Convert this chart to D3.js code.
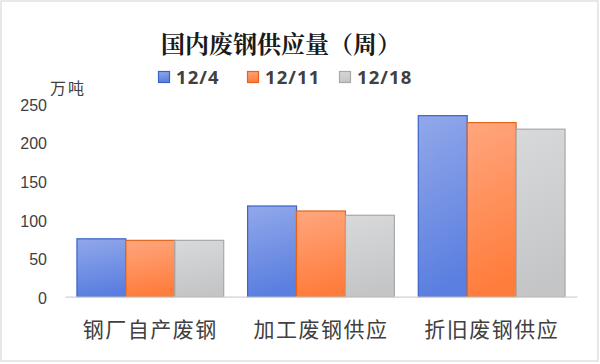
<!DOCTYPE html>
<html>
<head>
<meta charset="utf-8">
<script src="https://cdn.jsdelivr.net/npm/d3@7"></script>
<style>
  body { margin: 0; background: #fff; }
  svg { display: block; }
</style>
</head>
<body>
<script>
// categories and weekly series (万吨)
var categories = ["钢厂自产废钢", "加工废钢供应", "折旧废钢供应"];
var weeks = ["12/4", "12/11", "12/18"];
var w124 = [75, 117.5, 234.5];
var w1211 = [73, 111, 225.5];
var w1218 = [73, 105.5, 217];
var yTicks = [0, 50, 100, 150, 200, 250];

var seriesValues = [w124, w1211, w1218];
var data = categories.map(function(c, i) {
  return { cat: c, vals: weeks.map(function(w, j) { return { week: w, v: seriesValues[j][i] }; }) };
});

var width = 600, height = 364;
var svg = d3.select("body").append("svg")
  .attr("width", width)
  .attr("height", height);

// colour per series: top, bottom, stroke
var colors = {
  "12/4":  ["#91a8ea", "#5b7fe0", "#3b62c9"],
  "12/11": ["#ffa67e", "#ff7d3c", "#e5641a"],
  "12/18": ["#d8d9db", "#c4c5c7", "#a8a8a8"]
};

var defs = svg.append("defs");
weeks.forEach(function(w, i) {
  var g = defs.append("linearGradient")
    .attr("id", "grad" + i)
    .attr("x1", "0").attr("y1", "0").attr("x2", "0.15").attr("y2", "1");
  g.append("stop").attr("offset", "0%").attr("stop-color", colors[w][0]);
  g.append("stop").attr("offset", "100%").attr("stop-color", colors[w][1]);
});

// frame
svg.append("rect")
  .attr("x", 1).attr("y", 1)
  .attr("width", 597).attr("height", 360)
  .attr("fill", "#fff")
  .attr("stroke", "#e1e1e1")
  .attr("stroke-width", 1.5);

var x0 = d3.scaleBand()
  .domain(categories)
  .range([65, 577])
  .paddingInner(0.14)
  .paddingOuter(0.07);

var x1 = d3.scaleBand()
  .domain(weeks)
  .range([0, x0.bandwidth()]);

var y = d3.scaleLinear()
  .domain([0, 250])
  .range([296.7, 103.7]);

// y axis labels
var yAxis = d3.axisLeft(y).tickValues(yTicks).tickSize(0).tickPadding(0);
var ya = svg.append("g")
  .attr("transform", "translate(47,1.5)")
  .call(yAxis);
ya.select(".domain").remove();
ya.selectAll("text")
  .attr("font-family", "Liberation Sans, Arial, sans-serif")
  .attr("font-size", 16)
  .attr("fill", "#404040");

svg.append("text")
  .attr("x", 50).attr("y", 94)
  .attr("font-family", "Noto Sans CJK SC, sans-serif")
  .attr("font-size", 16)
  .attr("letter-spacing", 2)
  .attr("fill", "#404040")
  .text("万吨");

// bars
var groups = svg.selectAll(".grp")
  .data(data)
  .enter().append("g")
  .attr("class", "grp")
  .attr("transform", function(d) { return "translate(" + x0(d.cat) + ",0)"; });

groups.selectAll("rect")
  .data(function(d) { return d.vals; })
  .enter().append("rect")
  .attr("x", function(d) { return x1(d.week); })
  .attr("y", function(d) { return y(d.v); })
  .attr("width", x1.bandwidth())
  .attr("height", function(d) { return y(0) - y(d.v); })
  .attr("fill", function(d) { return "url(#grad" + weeks.indexOf(d.week) + ")"; })
  .attr("stroke", function(d) { return colors[d.week][2]; })
  .attr("stroke-width", 1.2);

// x axis
var xAxis = d3.axisBottom(x0).tickSize(0).tickPadding(0);
var xa = svg.append("g")
  .attr("transform", "translate(0," + y(0) + ")")
  .call(xAxis);
xa.select(".domain")
  .attr("stroke", "#d0d0d0")
  .attr("stroke-width", 1.2);
xa.selectAll("text")
  .attr("dy", null)
  .attr("y", 40)
  .attr("font-family", "Noto Sans CJK SC, sans-serif")
  .attr("font-size", 21)
  .attr("letter-spacing", 1.5)
  .attr("fill", "#404040");

// title
svg.append("text")
  .attr("x", 281).attr("y", 53)
  .attr("text-anchor", "middle")
  .attr("font-family", "Noto Serif CJK SC, Noto Sans CJK SC, serif")
  .attr("font-size", 24)
  .attr("font-weight", 700)
  .attr("fill", "#1a1a1a")
  .text("国内废钢供应量（周）");

// legend
var legendX = [158, 247, 339];
var leg = svg.selectAll(".leg")
  .data(weeks)
  .enter().append("g")
  .attr("class", "leg")
  .attr("transform", function(d, i) { return "translate(" + legendX[i] + ",71)"; });

leg.append("rect")
  .attr("width", 11).attr("height", 11)
  .attr("x", 0.5).attr("y", 0.5)
  .attr("fill", function(d, i) { return "url(#grad" + i + ")"; })
  .attr("stroke", function(d) { return colors[d][2]; })
  .attr("stroke-width", 1.2);

leg.append("text")
  .attr("x", 18).attr("y", 13)
  .attr("font-family", "Open Sans, sans-serif")
  .attr("font-weight", 700)
  .attr("font-size", 18.5)
  .attr("letter-spacing", 1.1)
  .attr("fill", "#404040")
  .text(function(d) { return d; });
</script>
</body>
</html>
